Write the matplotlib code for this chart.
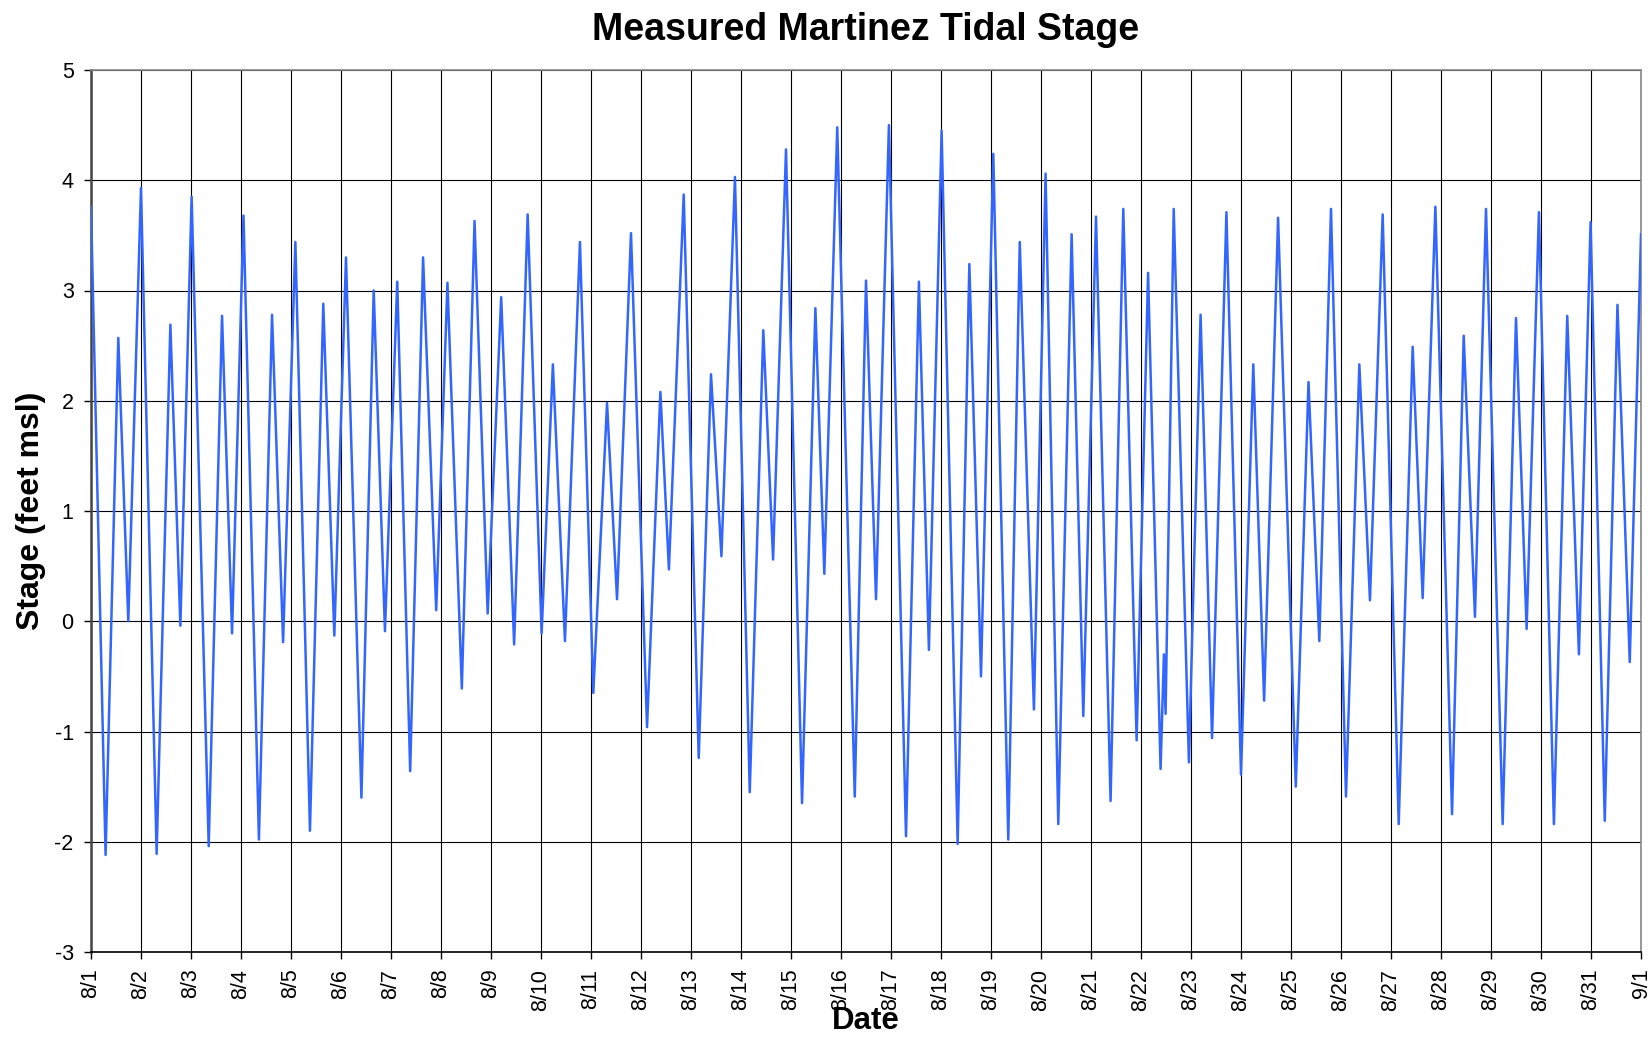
import matplotlib
matplotlib.use("Agg")
import matplotlib.pyplot as plt
import numpy as np

# Tidal extremes: hours since 8/1 00:00, stage (feet msl)
hours = [
    0, 7.0, 13.1, 17.9, 24.0, 31.5, 38.1, 42.9, 48.3, 56.5, 62.9, 67.7,
    73.2, 80.6, 86.9, 92.2, 98.1, 105.1, 111.5, 116.8, 122.4, 129.8, 135.7, 141.1,
    147.0, 153.2, 159.4, 165.7, 171.1, 178.0, 184.1, 190.4, 196.9, 203.1, 209.6, 216.3,
    221.7, 227.5, 234.7, 241.1, 247.7, 252.5, 259.2, 266.9, 273.3, 277.4, 284.5, 291.7,
    297.6, 302.6, 309.1, 316.2, 322.7, 327.4, 333.6, 341.3, 347.7, 352.0, 358.2, 366.6,
    372.0, 376.8, 383.0, 391.2, 397.4, 402.2, 408.3, 416.0, 421.6, 427.2, 433.1, 440.3,
    445.8, 452.6, 458.2, 464.3, 470.7, 476.3, 482.4, 489.4, 495.5, 501.9, 507.4, 513.4,
    515.0, 515.8, 519.7, 527.0, 532.6, 538.1, 545.0, 552.0, 557.9, 563.1, 569.8, 578.3,
    584.4, 589.6, 595.2, 602.4, 608.8, 613.9, 620.0, 627.7, 634.4, 639.2, 645.3, 653.3,
    658.9, 664.3, 669.6, 677.6, 684.0, 689.1, 695.0, 702.2, 708.6, 714.2, 719.8, 726.6,
    732.7, 738.6, 744.0,
]
stage = [
    3.76, -2.12, 2.57, 0.00, 3.93, -2.11, 2.69, -0.04, 3.85, -2.04, 2.77, -0.11,
    3.68, -1.98, 2.78, -0.19, 3.44, -1.90, 2.88, -0.13, 3.30, -1.60, 3.00, -0.09,
    3.08, -1.36, 3.30, 0.10, 3.07, -0.61, 3.63, 0.07, 2.94, -0.21, 3.69, -0.11,
    2.33, -0.18, 3.44, -0.65, 1.98, 0.20, 3.52, -0.96, 2.08, 0.47, 3.87, -1.24,
    2.24, 0.59, 4.03, -1.55, 2.64, 0.56, 4.28, -1.65, 2.84, 0.43, 4.48, -1.59,
    3.09, 0.20, 4.50, -1.95, 3.08, -0.26, 4.45, -2.02, 3.24, -0.50, 4.24, -1.98,
    3.44, -0.80, 4.06, -1.84, 3.51, -0.86, 3.67, -1.63, 3.74, -1.08, 3.16, -1.34,
    -0.30, -0.84, 3.74, -1.28, 2.78, -1.06, 3.71, -1.39, 2.33, -0.72, 3.66, -1.50,
    2.17, -0.18, 3.74, -1.59, 2.33, 0.19, 3.69, -1.84, 2.49, 0.21, 3.76, -1.75,
    2.59, 0.04, 3.74, -1.84, 2.75, -0.07, 3.71, -1.84, 2.77, -0.30, 3.62, -1.81,
    2.87, -0.37, 3.51,
]
date_labels = [f"8/{d}" for d in range(1, 32)] + ["9/1"]
y_ticks = [-3, -2, -1, 0, 1, 2, 3, 4, 5]

plt.rcParams['font.family'] = ['Liberation Sans', 'DejaVu Sans']

W, H = 1648, 1064
fig = plt.figure(figsize=(W / 100, H / 100), dpi=100)
ax = fig.add_axes([91 / W, 1 - 952 / H, (1641 - 91) / W, (952 - 70) / H])

days = np.array(hours) / 24.0
ax.plot(days, stage, color='#3366FF', lw=1.8, zorder=3)

ax.set_xlim(0, 31)
ax.set_ylim(-3, 5)
ax.set_xticks(range(32))
ax.set_xticklabels(date_labels, rotation=90, fontsize=15.5)
ax.set_yticks(y_ticks)
ax.set_yticklabels([str(v) for v in y_ticks], fontsize=15.5)
ax.tick_params(axis='both', direction='out', length=5, width=1, color='black')
ax.tick_params(axis='y', pad=7.5)
ax.tick_params(axis='x', pad=7)

ax.grid(True, color='black', lw=0.8, zorder=1)
ax.set_axisbelow(True)

for side, spine in ax.spines.items():
    spine.set_linewidth(1.2)
ax.spines['left'].set_color('#444444')
ax.spines['left'].set_linewidth(1.8)
ax.spines['top'].set_color('#888888')
ax.spines['right'].set_color('#888888')
ax.spines['bottom'].set_color('black')

fig.text(866 / W, 1 - 30 / H, "Measured Martinez Tidal Stage", ha='center', va='center',
         fontsize=27, fontweight='bold')
fig.text(31 / W, 1 - 511 / H, "Stage (feet msl)", ha='center', va='center', rotation=90,
         fontsize=23, fontweight='bold')
fig.text(866 / W, 1 - 1021 / H, "Date", ha='center', va='center',
         fontsize=22.5, fontweight='bold')

fig.savefig("out.png", dpi=100, facecolor='white')
